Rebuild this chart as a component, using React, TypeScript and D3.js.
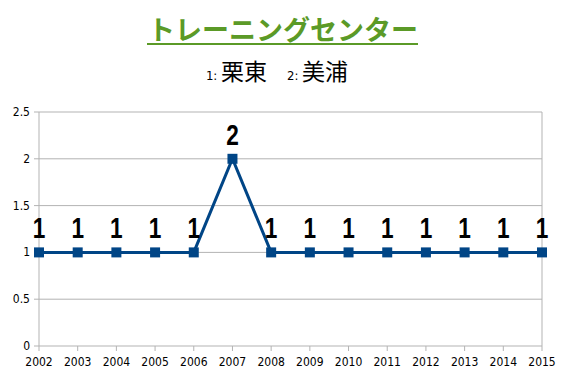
import React from "react";
import * as d3 from "d3";

const years = ["2002","2003","2004","2005","2006","2007","2008","2009","2010","2011","2012","2013","2014","2015"];
const values = [1,1,1,1,1,2,1,1,1,1,1,1,1,1];
const yTicks = [0,0.5,1,1.5,2,2.5];
const yTickLabels = ["0","0.5","1","1.5","2","2.5"];

export default function App() {
  const W = 567, H = 378;
  const x = d3.scalePoint<string>().domain(years).range([39, 542]);
  const y = d3.scaleLinear().domain([0, 2.5]).range([346, 112]);
  const line = d3.line<number>().x((_, i) => x(years[i])!).y(d => y(d));
  const blue = "#004586";
  return (
    <svg width={W} height={H} style={{ position: "absolute", left: 0, top: 0, background: "#fff" }}>
      <rect x={0} y={0} width={W} height={H} fill="#fff" />
      <text x={283} y={40} textAnchor="middle" fontFamily="'Noto Sans CJK JP'" fontWeight="bold" fontSize={27} fill="#5b9a27">トレーニングセンター</text>
      <line x1={147} x2={418} y1={44} y2={44} stroke="#5b9a27" strokeWidth={2} />
      <text x={277} y={80} textAnchor="middle" fontFamily="'Noto Sans CJK JP'" fill="#000">
        <tspan fontSize={13} fontFamily="'DejaVu Sans Condensed'">1: </tspan>
        <tspan fontSize={23}>栗東</tspan>
        <tspan fontSize={13} fontFamily="'DejaVu Sans Condensed'" dx={20}>2: </tspan>
        <tspan fontSize={23}>美浦</tspan>
      </text>
      {yTicks.map((t, i) => (
        <g key={t}>
          <line x1={39} x2={542} y1={y(t)} y2={y(t)} stroke="#b3b3b3" strokeWidth={1} />
          <line x1={34} x2={39} y1={y(t)} y2={y(t)} stroke="#b3b3b3" strokeWidth={1} />
          <text x={30} y={y(t) + 4} textAnchor="end" fontFamily="'DejaVu Sans Condensed'" fontSize={12} fill="#000">{yTickLabels[i]}</text>
        </g>
      ))}
      <line x1={39} x2={39} y1={112} y2={346} stroke="#b3b3b3" />
      <line x1={542} x2={542} y1={112} y2={346} stroke="#b3b3b3" />
      {years.map(yr => (
        <g key={yr}>
          <line x1={x(yr)} x2={x(yr)} y1={346} y2={351} stroke="#b3b3b3" />
          <text x={x(yr)} y={366} textAnchor="middle" fontFamily="'DejaVu Sans Condensed'" fontSize={12} fill="#000">{yr}</text>
        </g>
      ))}
      <path d={line(values)!} fill="none" stroke={blue} strokeWidth={3} />
      {values.map((v, i) => (
        <g key={i}>
          <rect x={x(years[i])! - 5} y={y(v) - 5} width={10} height={10} fill={blue} />
          <text transform={`translate(${x(years[i])},${y(v) - 14}) scale(0.78,1)`} textAnchor="middle" fontFamily="'Liberation Sans'" fontWeight="bold" fontSize={29} fill="#000">{v}</text>
        </g>
      ))}
    </svg>
  );
}
